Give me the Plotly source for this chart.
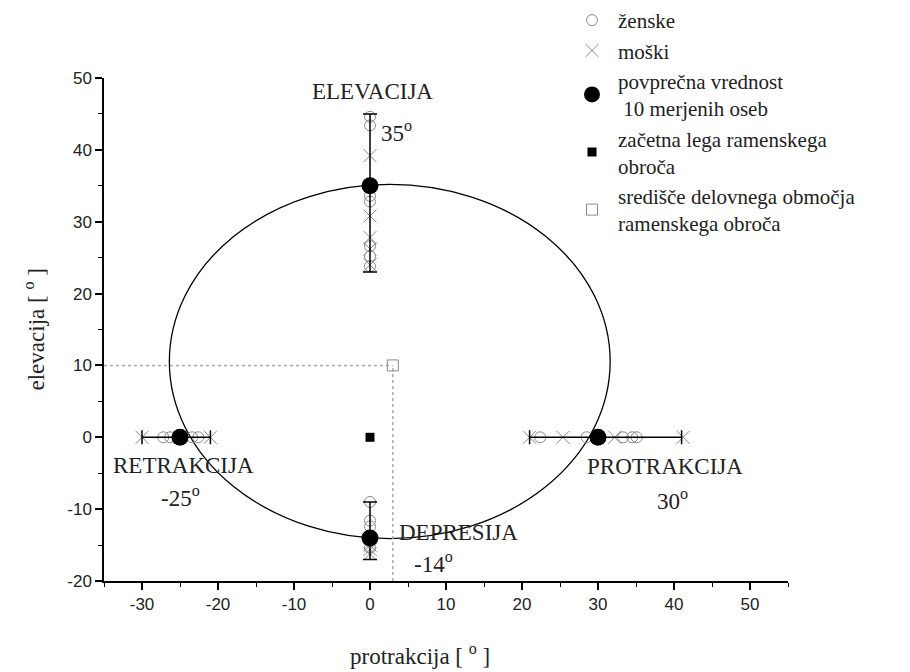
import plotly.graph_objects as go

# ---------------- data ----------------
# individual subjects (women = ženske, men = moški)
women_elev_y = [44.6, 43.4, 33.6, 32.8, 26.6, 25.2, 23.8]
men_elev_y = [39.2, 30.8, 27.8, 26.2, 24.0]
women_dep_y = [-9.0, -11.6, -12.4, -15.4]
men_dep_y = [-15.0, -15.6, -16.2]
women_retr_x = [-27.2, -26.3, -23.4, -22.6]
men_retr_x = [-30.0, -21.0]
women_protr_x = [22.4, 28.5, 33.3, 34.5, 35.1]
men_protr_x = [21.0, 25.4, 32.2, 41.2]

# mean values of the 10 measured persons
mean_vert_x = [0, 0]
mean_vert_y = [35, -14]
mean_vert_plus = [10, 5]
mean_vert_minus = [12, 3]
mean_horiz_x = [-25, 30]
mean_horiz_y = [0, 0]
mean_horiz_plus = [4, 11]
mean_horiz_minus = [5, 9]

start_pos = [0, 0]          # začetna lega ramenskega obroča
work_center = [3, 10]       # središče delovnega območja

ellipse_x = [-26.4, 31.6]
ellipse_y = [-14.1, 35.2]

x_range = [-35, 55]
y_range = [-20, 50]
x_ticks = [-30, -20, -10, 0, 10, 20, 30, 40, 50]
x_ticktext = ["-30", "-20", "-10", "0", "10", "20", "30", "40", "50"]
y_ticks = [-20, -10, 0, 10, 20, 30, 40, 50]
y_ticktext = ["-20", "-10", "0", "10", "20", "30", "40", "50"]

labels = ["ELEVACIJA", "35<sup>o</sup>", "DEPRESIJA", "-14<sup>o</sup>",
          "RETRAKCIJA", "-25<sup>o</sup>", "PROTRAKCIJA", "30<sup>o</sup>"]
label_x = [0.3, 3.5, 11.6, 8.4, -24.6, -24.9, 38.8, 39.8]
label_y = [48.1, 42.5, -13.2, -17.4, -3.9, -8.3, -4.1, -8.6]

SERIF = "Liberation Serif, 'Times New Roman', Times, serif"
SANS = "Liberation Sans, Arial, sans-serif"
GRAY = "#8a8a8a"
TXT = "#222222"

fig = go.Figure()

# women
fig.add_trace(go.Scatter(
    x=[0] * len(women_elev_y) + [0] * len(women_dep_y) + women_retr_x + women_protr_x,
    y=women_elev_y + women_dep_y + [0] * len(women_retr_x) + [0] * len(women_protr_x),
    mode="markers", name="ženske",
    marker=dict(symbol="circle-open", size=11, color=GRAY, line=dict(width=1, color=GRAY)),
))
# men
fig.add_trace(go.Scatter(
    x=[0] * len(men_elev_y) + [0] * len(men_dep_y) + men_retr_x + men_protr_x,
    y=men_elev_y + men_dep_y + [0] * len(men_retr_x) + [0] * len(men_protr_x),
    mode="markers", name="moški",
    marker=dict(symbol="x-thin-open", size=13, color=GRAY, line=dict(width=1, color=GRAY)),
))
# means with vertical range
fig.add_trace(go.Scatter(
    x=mean_vert_x, y=mean_vert_y, mode="markers",
    name="povprečna vrednost<br> 10 merjenih oseb",
    marker=dict(symbol="circle", size=17, color="black"),
    error_y=dict(type="data", symmetric=False, array=mean_vert_plus,
                 arrayminus=mean_vert_minus, color="black", thickness=1.5, width=7),
))
# means with horizontal range
fig.add_trace(go.Scatter(
    x=mean_horiz_x, y=mean_horiz_y, mode="markers", showlegend=False,
    marker=dict(symbol="circle", size=17, color="black"),
    error_x=dict(type="data", symmetric=False, array=mean_horiz_plus,
                 arrayminus=mean_horiz_minus, color="black", thickness=1.5, width=7),
))
# start position
fig.add_trace(go.Scatter(
    x=[start_pos[0]], y=[start_pos[1]], mode="markers",
    name="začetna lega ramenskega<br>obroča",
    marker=dict(symbol="square", size=9, color="black"),
))
# center of working area
fig.add_trace(go.Scatter(
    x=[work_center[0]], y=[work_center[1]], mode="markers",
    name="središče delovnega območja<br>ramenskega obroča",
    marker=dict(symbol="square-open", size=11, color=GRAY, line=dict(width=1, color=GRAY)),
))

shapes = [
    dict(type="circle", xref="x", yref="y", x0=ellipse_x[0], x1=ellipse_x[1],
         y0=ellipse_y[0], y1=ellipse_y[1], line=dict(color="black", width=1.3), layer="below"),
    dict(type="line", xref="x", yref="y", x0=x_range[0], x1=work_center[0],
         y0=work_center[1], y1=work_center[1], line=dict(color="#aaaaaa", width=1.5, dash="dot"),
         layer="below"),
    dict(type="line", xref="x", yref="y", x0=work_center[0], x1=work_center[0],
         y0=y_range[0], y1=work_center[1], line=dict(color="#aaaaaa", width=1.5, dash="dot"),
         layer="below"),
]

annotations = []
for t, lx, ly in zip(labels, label_x, label_y):
    annotations.append(dict(x=lx, y=ly, xref="x", yref="y", text=t, showarrow=False,
                            xanchor="center", yanchor="middle",
                            font=dict(family=SERIF, size=23, color=TXT)))
annotations.append(dict(x=-0.1009, y=0.5, xref="paper", yref="paper",
                        text="elevacija [ <sup>o</sup> ]", textangle=-90, showarrow=False,
                        xanchor="center", yanchor="middle",
                        font=dict(family=SERIF, size=23, color=TXT)))
annotations.append(dict(x=0.462, y=-0.1471, xref="paper", yref="paper",
                        text="protrakcija [ <sup>o</sup> ]", showarrow=False,
                        xanchor="center", yanchor="middle",
                        font=dict(family=SERIF, size=23, color=TXT)))

axis_common = dict(showgrid=False, zeroline=False, showline=True, linecolor="black",
                   linewidth=1.5, ticks="outside", ticklen=7, tickwidth=1.5, tickcolor="black",
                   tickfont=dict(family=SANS, size=17, color=TXT),
                   minor=dict(ticks="outside", ticklen=4, tickwidth=1.2, tickcolor="black", dtick=5))

fig.update_layout(
    width=910, height=672,
    margin=dict(l=104, r=122, t=78, b=91, autoexpand=False),
    paper_bgcolor="white", plot_bgcolor="white",
    font=dict(family=SERIF, color=TXT),
    xaxis=dict(range=x_range, tickvals=x_ticks, ticktext=x_ticktext, **axis_common),
    yaxis=dict(range=y_range, tickvals=y_ticks, ticktext=y_ticktext, **axis_common),
    shapes=shapes, annotations=annotations,
    legend=dict(x=566 / 910, y=1.0045, xref="container", yref="container",
                xanchor="left", yanchor="top", bgcolor="rgba(0,0,0,0)",
                font=dict(family=SERIF, size=21, color=TXT), itemwidth=42,
                tracegroupgap=0),
    showlegend=True,
)

fig.write_html("out.html")
